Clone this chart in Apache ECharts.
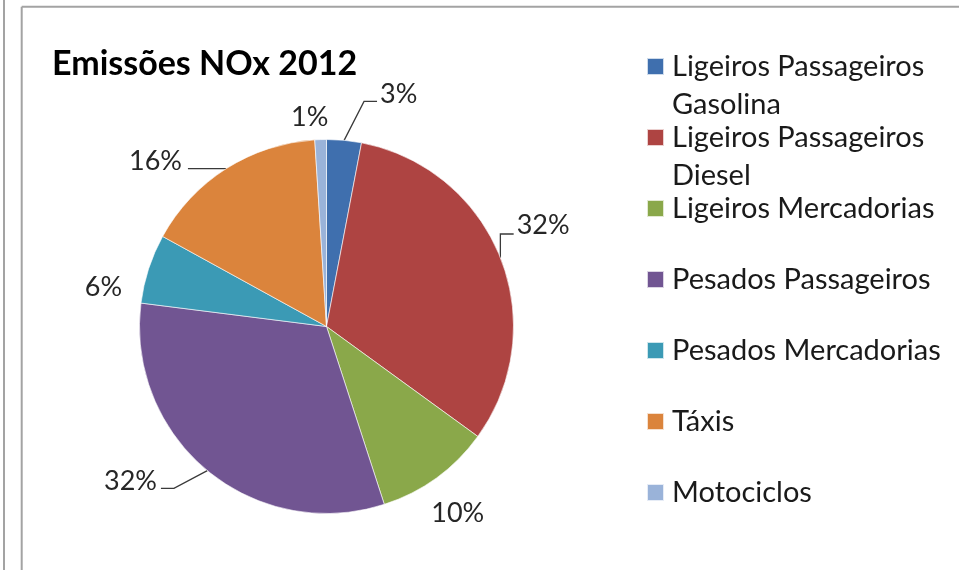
<!DOCTYPE html>
<html>
<head>
<meta charset="utf-8">
<script src="https://cdn.jsdelivr.net/npm/echarts@6/dist/echarts.min.js"></script>
<style>
  html, body { margin: 0; padding: 0; background: #ffffff; }
  #chart { width: 959px; height: 570px; }
</style>
</head>
<body>
<div id="chart"></div>
<script>
// NOx emissions by vehicle class, 2012 (share of total, %)
const chartTitle = 'Emissões NOx 2012';
const categories = [
  'Ligeiros Passageiros Gasolina',
  'Ligeiros Passageiros Diesel',
  'Ligeiros Mercadorias',
  'Pesados Passageiros',
  'Pesados Mercadorias',
  'Táxis',
  'Motociclos'
];
const shares = [3, 32, 10, 32, 6, 16, 1];

// slice colours, in category order
const sliceColors = ['#3f6fae', '#ae4442', '#8aa84a', '#715592', '#3b9ab5', '#db843c', '#9ab3d9'];
// label nudges (dx, dy) away from the default outside spot
const labelShift = [[20, -36], [-8, -29], [-26, 27], [-29, 3], [-2, 22], [-24, 1], [23, -12]];
// leader line style per slice: null = no leader line
const leaderShapes = ['slant', 'riser', null, 'slant', null, 'level', null];

const FONT = 'Lato';
const LEGEND_FS = 29;
const LINE_H = 38;
const PAD = '\u00a0';

function legendText(name) {
  // long names wrap onto a second line at the last space
  if (name.length > 22) {
    const cut = name.lastIndexOf(' ');
    return '{pad|' + PAD + '}\n{t|' + name.slice(0, cut) + '}\n{t|' + name.slice(cut + 1) + '}';
  }
  return '{pad|' + PAD + '}\n{t|' + name + '}\n{pad|' + PAD + '}';
}

const chart = echarts.init(document.getElementById('chart'), null, { renderer: 'canvas' });

chart.setOption({
  backgroundColor: '#ffffff',
  animation: false,
  title: {
    text: chartTitle,
    left: 52,
    top: 47,
    padding: 0,
    textStyle: { fontFamily: FONT, fontWeight: 'bold', fontSize: 34, color: '#000000', lineHeight: 34 }
  },
  legend: {
    orient: 'vertical',
    left: 646,
    top: 14,
    padding: 0,
    itemGap: -34,
    itemWidth: 17,
    itemHeight: 17,
    icon: 'rect',
    selectedMode: false,
    data: categories,
    formatter: legendText,
    textStyle: {
      fontFamily: FONT,
      fontSize: LEGEND_FS,
      color: '#1a1a1a',
      rich: {
        t: { fontFamily: FONT, fontSize: LEGEND_FS, color: '#1a1a1a', lineHeight: LINE_H, padding: [0, 0, 0, 3] },
        pad: { fontFamily: FONT, fontSize: LEGEND_FS, lineHeight: LINE_H }
      }
    }
  },
  graphic: [
    { type: 'line', shape: { x1: 4, y1: 0, x2: 4, y2: 570 }, style: { stroke: '#a3a3a3', lineWidth: 2 } },
    { type: 'line', shape: { x1: 21.7, y1: 6.7, x2: 21.7, y2: 570 }, style: { stroke: '#a3a3a3', lineWidth: 2 } },
    { type: 'line', shape: { x1: 21.7, y1: 6.7, x2: 959, y2: 6.7 }, style: { stroke: '#a3a3a3', lineWidth: 2 } }
  ],
  series: [{
    type: 'pie',
    center: [326.5, 326.5],
    radius: 187,
    startAngle: 90,
    clockwise: true,
    avoidLabelOverlap: false,
    itemStyle: { borderColor: 'rgba(255,255,255,0.75)', borderWidth: 0.8 },
    label: {
      show: true,
      position: 'outside',
      formatter: function (p) { return p.value + '%'; },
      fontFamily: FONT,
      fontSize: 27,
      color: '#262626',
      distanceToLabelLine: 5
    },
    labelLine: {
      show: true,
      length: 10,
      length2: 10,
      smooth: false,
      lineStyle: { color: '#3a3a3a', width: 1.3 }
    },
    labelLayout: function (p) {
      const i = p.dataIndex;
      const s = labelShift[i];
      const r = p.labelRect;
      const x = r.x + s[0];
      const y = r.y + s[1];
      const w = r.width;
      const h = r.height;
      const out = { dx: s[0], dy: s[1] };
      const kind = leaderShapes[i];
      if (kind && p.labelLinePoints) {
        const e = p.labelLinePoints[0];
        const onLeft = x + w < e[0];
        const near = onLeft ? x + w + 4 : x - 3;
        const dir = onLeft ? 1 : -1;
        if (kind === 'slant') {
          const ly = y + h / 2 + 7;
          out.labelLinePoints = [e, [near + dir * 13, ly], [near, ly]];
        } else if (kind === 'riser') {
          const ly = y + h / 2 + 9;
          out.labelLinePoints = [e, [e[0], ly], [near, ly]];
        } else if (kind === 'level') {
          out.labelLinePoints = [e, [near + dir * 2, e[1]]];
        }
      }
      return out;
    },
    data: categories.map(function (name, i) {
      return {
        name: name,
        value: shares[i],
        itemStyle: { color: sliceColors[i] },
        labelLine: { show: leaderShapes[i] !== null }
      };
    })
  }]
});
</script>
</body>
</html>
